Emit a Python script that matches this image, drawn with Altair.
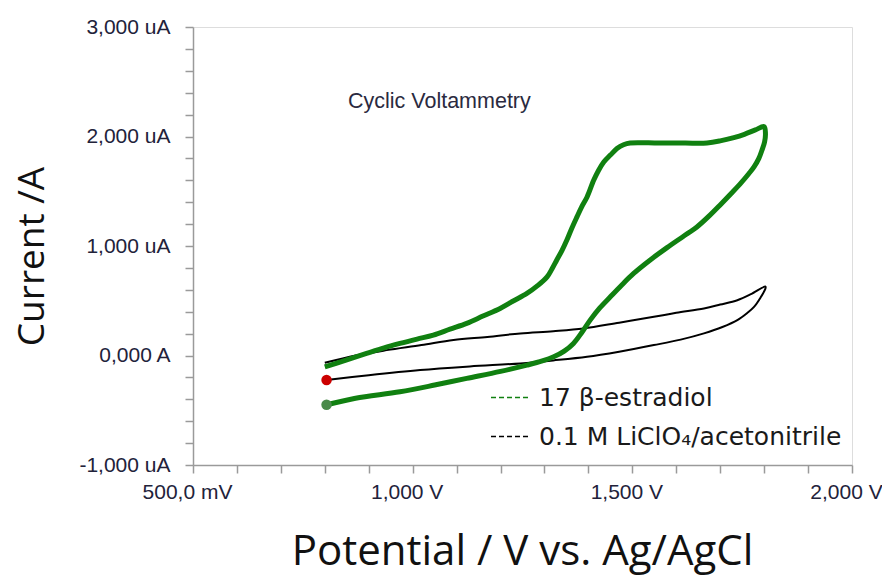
import altair as alt
import pandas as pd

SERIES = ["17 β-estradiol", "0.1 M LiClO₄/acetonitrile"]

# 17 beta-estradiol: potential (V) and current (uA), in scan order
E_V = [0.804, 0.87, 0.971, 1.05, 1.123, 1.20, 1.260, 1.295, 1.321, 1.345, 1.366, 1.385,
       1.404, 1.425, 1.450, 1.475, 1.503, 1.54, 1.579, 1.615, 1.647, 1.675, 1.701, 1.725,
       1.746, 1.765, 1.777, 1.788, 1.795, 1.801, 1.803, 1.800,
       1.780, 1.755, 1.731, 1.700, 1.670, 1.62, 1.56, 1.495, 1.480, 1.465, 1.450, 1.435,
       1.423, 1.412, 1.397, 1.385, 1.374, 1.362, 1.351, 1.340, 1.328, 1.317, 1.306, 1.285,
       1.260, 1.230, 1.199, 1.160, 1.123, 1.085, 1.047, 1.010, 0.971, 0.935, 0.895, 0.850, 0.800]
E_I = [-0.45, -0.39, -0.331, -0.27, -0.209, -0.145, -0.088, -0.05, -0.012, 0.04, 0.11, 0.21,
       0.323, 0.43, 0.536, 0.64, 0.749, 0.87, 0.985, 1.085, 1.174, 1.275, 1.38, 1.48,
       1.570, 1.66, 1.722, 1.80, 1.874, 1.95, 2.026, 2.09,
       2.06, 2.02, 1.990, 1.96, 1.941, 1.94, 1.94, 1.941, 1.925, 1.890, 1.83, 1.767,
       1.69, 1.600, 1.448, 1.36, 1.266, 1.16, 1.054, 0.96, 0.872, 0.79, 0.718, 0.64,
       0.567, 0.50, 0.430, 0.36, 0.293, 0.24, 0.186, 0.15, 0.110, 0.07, 0.019, -0.04, -0.103]

# blank electrolyte: potential (V) and current (uA), in scan order
B_V = [0.804, 0.90, 1.017, 1.13, 1.245, 1.32, 1.397, 1.47, 1.549, 1.61, 1.663, 1.705,
       1.739, 1.762, 1.777, 1.792, 1.803, 1.803,
       1.770, 1.739, 1.70, 1.663, 1.60, 1.549, 1.47, 1.389, 1.32, 1.245, 1.17, 1.093,
       1.02, 0.941, 0.87, 0.800]
B_I = [-0.224, -0.18, -0.133, -0.10, -0.072, -0.045, -0.012, 0.035, 0.095, 0.145, 0.202, 0.26,
       0.323, 0.39, 0.444, 0.53, 0.612, 0.63,
       0.56, 0.505, 0.465, 0.430, 0.39, 0.353, 0.30, 0.247, 0.222, 0.202, 0.17, 0.141,
       0.095, 0.049, 0.0, -0.067]

X_MAJOR = [0.5, 1.0, 1.5, 2.0]
X_TICK_LABELS = ["500,0 mV", "1,000 V", "1,500 V", "2,000 V"]
Y_MAJOR = [-1, 0, 1, 2, 3]
Y_TICK_LABELS = ["-1,000 uA", "0,000 A", "1,000 uA", "2,000 uA", "3,000 uA"]

X_TICKS = [round(0.5 + 0.1 * i, 1) for i in range(16)]
Y_TICKS = [round(-1 + 0.2 * i, 1) for i in range(21)]

rows = []
for name, vs, cs in ((SERIES[0], E_V, E_I), (SERIES[1], B_V, B_I)):
    for k, (v, c) in enumerate(zip(vs, cs)):
        rows.append({"series": name, "potential": v, "current": c, "step": k})
df = pd.DataFrame(rows)


def label_expr(values, labels):
    s = ""
    for v, l in zip(values, labels):
        s += "abs(datum.value - (%s)) < 0.001 ? '%s' : " % (v, l)
    return s + "''"


TICK_COLOR = "#9a9a9a"
LABEL_COLOR = "#22223a"

x_axis = alt.Axis(
    values=X_TICKS, labelExpr=label_expr(X_MAJOR, X_TICK_LABELS),
    title="Potential / V vs. Ag/AgCl", titleFont="Open Sans", titleFontSize=42,
    titleFontWeight="normal", titleColor="#111111", titleX=329, titleY=99,
    titleBaseline="alphabetic", titleAlign="center",
    labelFont="Liberation Sans", labelFontSize=21, labelColor=LABEL_COLOR,
    labelPadding=8, labelFlush=False, labelOverlap=False, labelOffset=-6,
    tickSize=8, tickColor=TICK_COLOR, tickWidth=1.5,
    domainColor=TICK_COLOR, domainWidth=1.5, grid=False,
)
y_axis = alt.Axis(
    values=Y_TICKS, labelExpr=label_expr(Y_MAJOR, Y_TICK_LABELS),
    title="Current /A", titleFont="Open Sans", titleFontSize=37,
    titleFontWeight="normal", titleColor="#111111", titleX=-150, titleY=229,
    titleBaseline="alphabetic", titleAlign="center", titleAngle=270,
    labelFont="Liberation Sans", labelFontSize=21, labelColor=LABEL_COLOR,
    labelPadding=15, labelOverlap=False, labelFlush=False,
    tickSize=8, tickColor=TICK_COLOR, tickWidth=1.5,
    domainColor=TICK_COLOR, domainWidth=1.5, grid=False,
)

X = alt.X("potential:Q", scale=alt.Scale(domain=[0.5, 2.0], nice=False, zero=False), axis=x_axis)
Y = alt.Y("current:Q", scale=alt.Scale(domain=[-1, 3], nice=False, zero=False), axis=y_axis)
C = alt.Color(
    "series:N",
    scale=alt.Scale(domain=SERIES, range=["#108010", "#000000"]),
    legend=alt.Legend(
        orient="none", legendX=297, legendY=351, title=None,
        symbolType="stroke", symbolSize=1369, symbolStrokeWidth=1.5, symbolDash=[5, 3],
        labelFont="DejaVu Sans", labelFontSize=25, labelColor="#1a1a1a",
        labelOffset=10, rowPadding=6, padding=0, labelLimit=400,
    ),
)

base = alt.Chart(df)

black = base.transform_filter(alt.datum.series == SERIES[1]).mark_line(
    strokeWidth=2, strokeJoin="round", interpolate="catmull-rom"
).encode(x=X, y=Y, color=C, order="step:Q")
green = base.transform_filter(alt.datum.series == SERIES[0]).mark_line(
    strokeWidth=5, strokeJoin="round", interpolate="catmull-rom"
).encode(x=X, y=Y, color=C, order="step:Q")
red_dot = base.transform_filter(
    (alt.datum.series == SERIES[1]) & (alt.datum.step == 0)
).mark_circle(size=110, color="#cc0000", opacity=1).encode(x=X, y=Y)
green_dot = base.transform_filter(
    (alt.datum.series == SERIES[0]) & (alt.datum.step == 0)
).mark_circle(size=110, color="#4a8a4a", opacity=1).encode(x=X, y=Y)

chart = alt.layer(black, green, red_dot, green_dot).properties(
    width=659, height=438,
    autosize=alt.AutoSizeParams(type="none"),
    padding={"left": 193, "top": 27, "right": 30, "bottom": 111},
    title=alt.TitleParams(
        "Cyclic Voltammetry", anchor="start", frame="group", dx=155, dy=113,
        font="Liberation Sans", fontSize=21.5, fontWeight="normal", color="#2a2a40",
        baseline="alphabetic", offset=0,
    ),
).configure_view(stroke=None).configure(background="white")

chart.save("out.html", embed_options={"renderer": "svg", "actions": False})
